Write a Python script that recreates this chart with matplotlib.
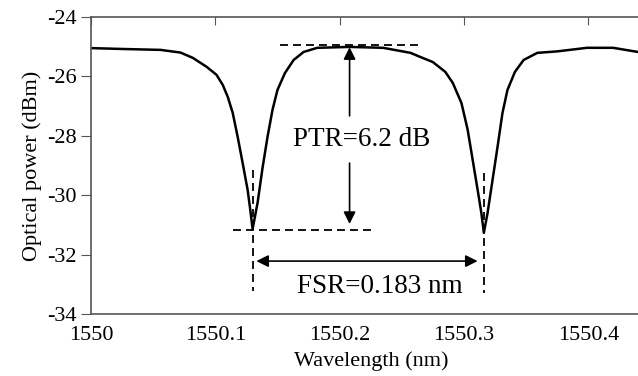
import matplotlib.pyplot as plt

plt.rcParams['font.family'] = ['Liberation Serif', 'DejaVu Serif']
plt.rcParams['axes.unicode_minus'] = False

# transmission spectrum
wavelength = [1550.000, 1550.026, 1550.056, 1550.072, 1550.082, 1550.093, 1550.101,
              1550.106, 1550.110, 1550.114, 1550.118, 1550.122, 1550.126, 1550.128,
              1550.130, 1550.134, 1550.138, 1550.142, 1550.146, 1550.150, 1550.156,
              1550.163, 1550.171, 1550.182, 1550.208, 1550.235, 1550.257, 1550.265,
              1550.275, 1550.285, 1550.291, 1550.298, 1550.303, 1550.307, 1550.311,
              1550.314, 1550.316, 1550.319, 1550.323, 1550.327, 1550.331, 1550.335,
              1550.341, 1550.348, 1550.359, 1550.375, 1550.399, 1550.420, 1550.440]
power = [-25.05, -25.08, -25.11, -25.20, -25.38, -25.68, -25.95,
         -26.29, -26.69, -27.23, -28.04, -28.92, -29.82, -30.45,
         -31.14, -30.26, -29.08, -28.04, -27.13, -26.46, -25.89,
         -25.45, -25.18, -25.04, -25.01, -25.04, -25.21, -25.35,
         -25.52, -25.85, -26.22, -26.90, -27.80, -28.81, -29.82,
         -30.60, -31.27, -30.60, -29.49, -28.38, -27.23, -26.46,
         -25.85, -25.45, -25.21, -25.16, -25.04, -25.04, -25.18]

dip1 = 1550.130
dip2 = 1550.316
peak_wl = 1550.208
peak_level = -24.95
dip_level = -31.17

xticks = [1550, 1550.1, 1550.2, 1550.3, 1550.4]
xtick_labels = ['1550', '1550.1', '1550.2', '1550.3', '1550.4']
yticks = [-24, -26, -28, -30, -32, -34]

fig = plt.figure(figsize=(6.38, 3.76), dpi=100)
ax = fig.add_axes([0.1426, 0.165, 0.8574, 0.79])

ax.plot(wavelength, power, color='black', lw=1.8)

# PTR / FSR marker lines
dash = dict(color='black', lw=1.3, linestyle=(0, (4.4, 2.8)))
ax.plot([1550.152, 1550.263], [peak_level, peak_level], **dash)
ax.plot([1550.114, 1550.225], [dip_level, dip_level], **dash)
ax.plot([dip1, dip1], [-29.15, -33.23], **dash)
ax.plot([dip2, dip2], [-29.25, -33.29], **dash)

arrow = dict(arrowstyle='-|>', color='black', lw=1.2, mutation_scale=18,
             shrinkA=0, shrinkB=0)
ax.annotate('', xy=(peak_wl, -25.02), xytext=(peak_wl, -27.33), arrowprops=arrow)
ax.annotate('', xy=(peak_wl, -30.97), xytext=(peak_wl, -28.92), arrowprops=arrow)
ax.text(1550.218, -28.14, 'PTR=6.2 dB', fontsize=19.5, ha='center', va='center')

ax.annotate('', xy=(dip1 + 0.003, -32.22), xytext=(dip2 - 0.005, -32.22),
            arrowprops=dict(arrowstyle='<|-|>', color='black', lw=1.2,
                            mutation_scale=18, shrinkA=0, shrinkB=0))
ax.text(1550.232, -33.06, 'FSR=0.183 nm', fontsize=19.5, ha='center', va='center')

ax.set_xlim(1550, 1550.44)
ax.set_ylim(-34, -24)
ax.set_xticks(xticks)
ax.set_xticklabels(xtick_labels)
ax.set_yticks(yticks)
ax.tick_params(axis='x', bottom=False, top=True, direction='in', length=6,
               labelsize=16, pad=9, color='#555555')
ax.tick_params(axis='y', direction='out', length=7, labelsize=16, pad=3,
               color='#555555')
ax.spines['right'].set_visible(False)
for s in ['left', 'top', 'bottom']:
    ax.spines[s].set_color('#555555')
    ax.spines[s].set_linewidth(1.2)

ax.set_xlabel('Wavelength (nm)', fontsize=16, labelpad=4)
ax.xaxis.label.set_x(0.512)
ax.set_ylabel('Optical power (dBm)', fontsize=16, labelpad=4)

plt.savefig('out.png', dpi=100)
